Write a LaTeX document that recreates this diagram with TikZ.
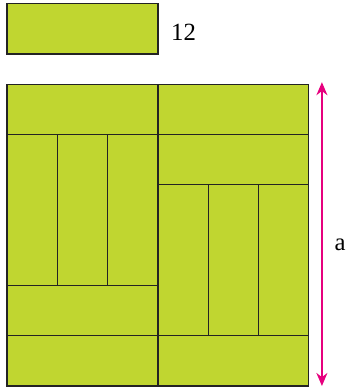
\documentclass[tikz,border=0pt]{standalone}
\usepackage{fontspec}
\setmainfont{Liberation Serif}
\usepackage{tikz}
\usetikzlibrary{arrows.meta}

\definecolor{brickgreen}{RGB}{192,214,48}
\definecolor{brickline}{RGB}{35,35,35}
\definecolor{arrowpink}{RGB}{230,0,126}

\tikzset{
  brick/.style={draw=brickline, fill=brickgreen, line width=0.7pt},
  sizelabel/.style={inner sep=0pt, font=\fontsize{14}{16}\selectfont}
}

\begin{document}
\begin{tikzpicture}
            \useasboundingbox (-0.14,-0.04) rectangle (6.72,7.674);
            % one tile
            \draw [brick] (0,6.6) rectangle (3,7.6);
            \node [sizelabel] (len) at (3.51,7.04) {12};
            % square made of tiles
            \draw [brick] (0,5) rectangle (3,6);
            \draw [brick] (3,5) rectangle (6,6);
            \foreach \i in {0,1,2}
              \draw [brick] (\i,2) rectangle (\i+1,5);
            \draw [brick] (0,1) rectangle (3,2);
            \draw [brick] (0,0) rectangle (3,1);
            \draw [brick] (3,0) rectangle (6,1);
            \draw [brick] (3,4) rectangle (6,5);
            \foreach \i in {3,4,5}
              \draw [brick] (\i,1) rectangle (\i+1,4);
            % side a
            \coordinate (atop) at (6.26,6.04);
            \coordinate (abot) at (6.26,0.0);
            \draw [arrowpink, line width=0.85pt, {Stealth[length=2.6mm,width=2.2mm]}-{Stealth[length=2.6mm,width=2.2mm]}] (atop) -- (abot);
            \node [sizelabel] (side) at (6.62,2.80) {a};
        \end{tikzpicture}
\end{document}
